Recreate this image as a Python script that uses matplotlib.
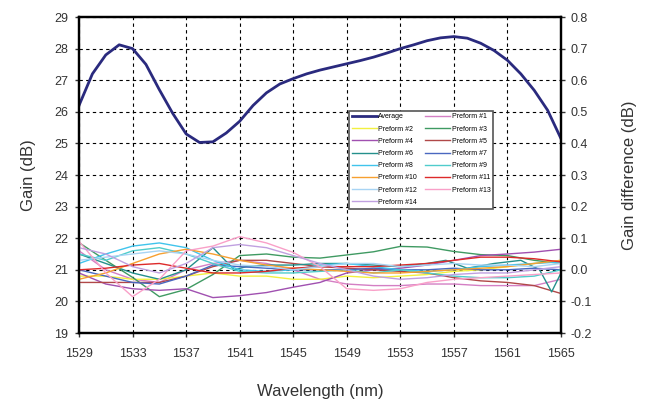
import numpy as np
import matplotlib
matplotlib.use('Agg')
import matplotlib.pyplot as plt
from matplotlib.ticker import FormatStrFormatter

plt.rcParams['font.family'] = ['Liberation Sans', 'DejaVu Sans']

# average gain (left axis), 1 nm steps
wl_avg = list(range(1529, 1566))
gain_avg = [26.2, 27.2, 27.8, 28.12, 28.0, 27.5, 26.7, 25.95, 25.3, 25.03,
            25.05, 25.33, 25.7, 26.2, 26.6, 26.88, 27.05, 27.2, 27.32, 27.42,
            27.52, 27.62, 27.73, 27.86, 28.0, 28.12, 28.25, 28.34, 28.38, 28.33,
            28.17, 27.94, 27.63, 27.2, 26.68, 26.05, 25.15]

# gain difference of each preform (right axis), 2 nm steps
wl = list(range(1529, 1566, 2))
p1 = [0.06, 0.0, -0.03, -0.04, 0.0, 0.02, 0.03, 0.02, 0.0, -0.03,
      -0.045, -0.05, -0.05, -0.045, -0.045, -0.05, -0.05, -0.05, -0.03]
p2 = [-0.02, -0.02, -0.03, -0.03, -0.02, -0.01, -0.02, -0.02, -0.03, -0.03,
      -0.02, -0.025, -0.02, -0.015, -0.005, 0.0, 0.01, 0.02, 0.03]
p3 = [0.086, 0.03, -0.024, -0.085, -0.062, -0.015, 0.045, 0.05, 0.04, 0.037,
      0.047, 0.057, 0.074, 0.072, 0.058, 0.048, 0.045, 0.03, 0.02]
p4 = [-0.01, -0.045, -0.06, -0.065, -0.06, -0.088, -0.082, -0.072, -0.055, -0.04,
      -0.01, 0.0, 0.005, 0.015, 0.03, 0.045, 0.05, 0.056, 0.065]
p5 = [-0.04, -0.04, -0.04, -0.04, -0.02, 0.01, 0.03, 0.03, 0.02, 0.01,
      0.005, 0.0, -0.005, -0.01, -0.025, -0.035, -0.04, -0.05, -0.075]
wl6 = [1529, 1531, 1533, 1535, 1537, 1539, 1540.6, 1541.5, 1543, 1545, 1547,
       1549, 1551, 1553, 1555, 1556.4, 1558, 1560, 1562, 1563.4, 1564.3, 1565]
p6 = [0.05, 0.02, -0.01, -0.03, 0.0, 0.07, 0.0, 0.01, 0.015, 0.015, 0.02,
      0.02, 0.015, 0.01, 0.02, 0.03, 0.005, 0.02, 0.03, 0.0, -0.07, -0.01]
p7 = [0.0, -0.02, -0.04, -0.045, -0.02, 0.015, 0.01, 0.005, 0.0, 0.0,
      0.0, 0.005, 0.0, 0.0, 0.005, 0.0, 0.0, 0.005, 0.0]
p8 = [0.02, 0.05, 0.075, 0.085, 0.07, 0.03, 0.0, -0.005, 0.0, 0.015,
      0.02, 0.01, 0.0, -0.005, 0.0, 0.01, 0.015, 0.02, 0.025]
p9 = [0.05, 0.03, 0.06, 0.07, 0.05, 0.02, -0.005, -0.01, -0.01, -0.005,
      0.0, -0.01, 0.0, -0.01, -0.02, -0.025, -0.025, -0.02, 0.0]
p10 = [-0.03, -0.01, 0.02, 0.05, 0.065, 0.05, 0.03, 0.015, 0.005, 0.0,
       -0.005, -0.01, -0.01, -0.005, 0.0, 0.005, 0.01, 0.02, 0.03]
p11 = [0.0, 0.005, 0.015, 0.02, 0.005, -0.01, -0.01, -0.005, 0.005, 0.01,
       0.01, 0.01, 0.015, 0.02, 0.03, 0.04, 0.04, 0.035, 0.025]
p12 = [0.03, 0.04, 0.05, 0.06, 0.05, 0.03, 0.015, 0.01, 0.0, 0.01,
       0.02, 0.02, 0.01, 0.015, 0.02, 0.015, 0.015, 0.01, 0.02]
p13 = [0.09, -0.01, -0.085, -0.03, 0.06, 0.075, 0.105, 0.085, 0.055, 0.01,
       -0.06, -0.065, -0.06, -0.04, -0.03, -0.025, -0.02, -0.015, -0.01]
p14 = [0.07, 0.05, 0.01, -0.01, 0.02, 0.07, 0.08, 0.07, 0.045, 0.02,
       0.0, -0.02, -0.03, -0.025, -0.015, -0.01, -0.01, 0.0, 0.01]

preforms = [
    ('Preform #1', wl, p1, '#d47fc4'),
    ('Preform #2', wl, p2, '#f2f040'),
    ('Preform #3', wl, p3, '#3f9a62'),
    ('Preform #4', wl, p4, '#a050b0'),
    ('Preform #5', wl, p5, '#b04848'),
    ('Preform #6', wl6, p6, '#24908c'),
    ('Preform #7', wl, p7, '#4a68c0'),
    ('Preform #8', wl, p8, '#40c4ec'),
    ('Preform #9', wl, p9, '#50cccc'),
    ('Preform #10', wl, p10, '#f7a030'),
    ('Preform #11', wl, p11, '#dd2a2a'),
    ('Preform #12', wl, p12, '#a8d4f4'),
    ('Preform #13', wl, p13, '#f9a0c8'),
    ('Preform #14', wl, p14, '#c0a0e0'),
]

fig = plt.figure(figsize=(6.46, 4.05), dpi=100)
ax = fig.add_axes([79/646, 1-333/405, 482/646, 316/405])
ax2 = ax.twinx()

h_avg, = ax.plot(wl_avg, gain_avg, color='#2a2a7e', lw=2.0, label='Average')

handles = {}
for name, x, y, c in preforms:
    h, = ax2.plot(x, y, color=c, lw=1.0, label=name)
    handles[name] = h

ax.set_xlim(1529, 1565)
ax.set_ylim(19, 29)
ax2.set_ylim(-0.2, 0.8)
ax.set_xticks(range(1529, 1566, 4))
ax.set_yticks(range(19, 30))
ax2.set_yticks(np.arange(-0.2, 0.81, 0.1))
ax2.yaxis.set_major_formatter(FormatStrFormatter('%.1f'))

ax.grid(True, ls=(0, (3, 3)), color='black', lw=0.8)
ax.set_axisbelow(True)

for a in (ax, ax2):
    for s in a.spines.values():
        s.set_linewidth(1.6)
    a.tick_params(labelsize=9, colors='#333333', width=1, length=3)
ax.tick_params(axis='x', pad=8)
ax.tick_params(axis='y', pad=5)

ax.set_xlabel('Wavelength (nm)', fontsize=12, color='#333333', labelpad=17)
ax.set_ylabel('Gain (dB)', fontsize=12, color='#333333', labelpad=13)
ax2.set_ylabel('Gain difference (dB)', fontsize=12, color='#333333', labelpad=22)

# legend laid out in rows like the original
left_col = [h_avg] + [handles['Preform #%d' % i] for i in range(2, 15, 2)]
right_col = [handles['Preform #%d' % i] for i in range(1, 14, 2)]
order = left_col + right_col
leg = ax2.legend(handles=order, labels=[h.get_label() for h in order], ncol=2,
                 fontsize=5, loc='upper left', bbox_to_anchor=(0.553, 0.715),
                 frameon=True, fancybox=False, framealpha=1, edgecolor='#555555',
                 handlelength=3.6, handletextpad=0.2, columnspacing=1.2,
                 labelspacing=0.75, borderpad=0.4)
leg.get_frame().set_linewidth(1.2)

fig.savefig('out.png', dpi=100)
